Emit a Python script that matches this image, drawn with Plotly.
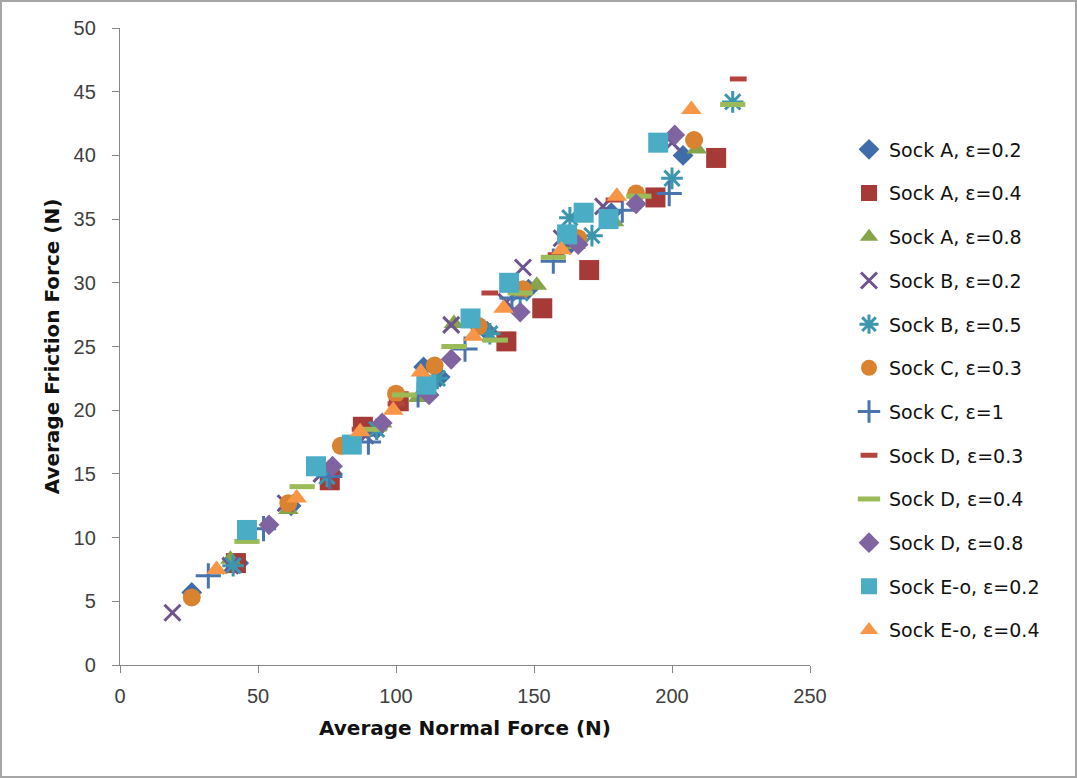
import plotly.graph_objects as go

# ---- data ----
a02_x = [26, 43, 62, 77, 93, 110, 116, 133, 148, 163, 178, 204]
a02_y = [5.7, 8.0, 12.5, 15.0, 18.5, 23.4, 22.6, 26.2, 29.5, 33.0, 35.5, 40.0]
a04_x = [42, 76, 88, 101, 140, 153, 170, 194, 216]
a04_y = [8.0, 14.5, 18.7, 20.7, 25.4, 28.0, 31.0, 36.7, 39.8]
a08_x = [40, 61, 95, 108, 121, 151, 165, 179, 209]
a08_y = [8.3, 12.2, 19.0, 21.0, 26.8, 29.8, 33.0, 34.8, 40.5]
b02_x = [19, 40, 60, 73, 89, 120, 140, 146, 160, 175, 200]
b02_y = [4.1, 7.8, 12.7, 15.0, 18.0, 26.7, 28.5, 31.2, 33.5, 36.0, 41.0]
b05_x = [41, 75, 93, 115, 134, 145, 163, 171, 200, 222]
b05_y = [7.8, 14.8, 18.5, 22.5, 26.0, 29.2, 35.1, 33.7, 38.2, 44.2]
c03_x = [26, 61, 80, 100, 114, 130, 146, 166, 187, 208]
c03_y = [5.3, 12.7, 17.2, 21.3, 23.5, 26.6, 29.5, 33.5, 37.0, 41.2]
c1_x = [32, 52, 76, 90, 108, 125, 142, 157, 182, 199]
c1_y = [7.0, 10.7, 14.8, 17.5, 21.2, 24.8, 28.8, 31.7, 35.7, 37.0]
d03_x = [87, 100, 134, 158, 179, 224]
d03_y = [18.5, 20.5, 29.2, 32.2, 36.5, 46.0]
d04_x = [46, 66, 92, 103, 121, 136, 145, 157, 188, 222]
d04_y = [9.7, 14.0, 18.5, 21.2, 25.0, 25.5, 29.2, 32.0, 36.8, 44.0]
d08_x = [54, 77, 95, 112, 120, 145, 166, 187, 201]
d08_y = [11.0, 15.6, 19.0, 21.2, 24.0, 27.7, 33.0, 36.2, 41.6]
e02_x = [46, 71, 84, 111, 127, 141, 162, 168, 177, 195]
e02_y = [10.6, 15.6, 17.3, 22.0, 27.2, 30.0, 33.8, 35.5, 35.0, 41.0]
e04_x = [35, 64, 87, 99, 109, 128, 139, 160, 180, 207]
e04_y = [7.5, 13.1, 18.3, 20.0, 23.0, 25.8, 28.0, 32.6, 36.8, 43.6]

x_ticks = [0, 50, 100, 150, 200, 250]
y_ticks = [0, 5, 10, 15, 20, 25, 30, 35, 40, 45, 50]

series = [
    ("Sock A, ε=0.2", a02_x, a02_y, "diamond", "#3F6DA9", 16, 1),
    ("Sock A, ε=0.4", a04_x, a04_y, "square", "#A63A37", 20, 1),
    ("Sock A, ε=0.8", a08_x, a08_y, "triangle-up", "#86A44A", 18, 1),
    ("Sock B, ε=0.2", b02_x, b02_y, "x-thin-open", "#6E548D", 16, 3),
    ("Sock B, ε=0.5", b05_x, b05_y, "asterisk-open", "#3C96AE", 18, 3),
    ("Sock C, ε=0.3", c03_x, c03_y, "circle", "#D9822F", 18, 1),
    ("Sock C, ε=1", c1_x, c1_y, "cross-thin-open", "#4A74AE", 18, 3),
    ("Sock D, ε=0.3", d03_x, d03_y, "line-ew-open", "#B5443F", 12, 5),
    ("Sock D, ε=0.4", d04_x, d04_y, "line-ew-open", "#9BBB59", 18, 5),
    ("Sock D, ε=0.8", d08_x, d08_y, "diamond", "#8064A2", 16, 1),
    ("Sock E-o, ε=0.2", e02_x, e02_y, "square", "#4BACC6", 20, 1),
    ("Sock E-o, ε=0.4", e04_x, e04_y, "triangle-up", "#F79646", 18, 1),
]

fig = go.Figure()
for i, (name, xs, ys, sym, col, size, lw) in enumerate(series):
    open_sym = sym.endswith("-open")
    fig.add_trace(go.Scatter(
        x=xs, y=ys, mode="markers", name=name, legendgroup=f"g{i}",
        marker=dict(symbol=sym, size=size, color=col,
                    line=dict(width=lw if open_sym else 0, color=col)),
    ))

axis_font = dict(family="Liberation Sans, Arial, sans-serif", size=20, color="#404040")
title_font = dict(family="DejaVu Sans, Liberation Sans, sans-serif", size=20, color="#111111")

PW, PH = 690, 637
fig.update_layout(
    width=1077, height=778,
    margin=dict(l=120, r=267, t=28, b=113),
    paper_bgcolor="white", plot_bgcolor="white",
    showlegend=True,
    legend=dict(x=(849 - 120) / PW, y=(665 - 390) / PH, xanchor="left", yanchor="middle",
                font=dict(family="DejaVu Sans, sans-serif", size=19, color="#111111"),
                tracegroupgap=16, itemsizing="trace", bgcolor="rgba(0,0,0,0)"),
    shapes=[dict(type="rect", xref="paper", yref="paper",
                 x0=(1 - 120) / PW, x1=(1076 - 120) / PW,
                 y0=-(777 - 665) / PH, y1=1 + (28 - 1) / PH,
                 line=dict(color="#A6A6A6", width=2), layer="below")],
)
fig.update_xaxes(range=[0, 250], tickvals=x_ticks, showgrid=False, zeroline=False,
                 showline=True, linecolor="#888888", linewidth=1.3,
                 ticks="outside", ticklen=7, tickcolor="#888888",
                 tickfont=axis_font, ticklabelstandoff=6,
                 title=dict(text="<b>Average Normal Force (N)</b>", font=title_font, standoff=14))
fig.update_yaxes(range=[0, 50], tickvals=y_ticks, showgrid=False, zeroline=False,
                 showline=True, linecolor="#888888", linewidth=1.3,
                 ticks="outside", ticklen=7, tickcolor="#888888",
                 tickfont=axis_font, ticklabelstandoff=12,
                 title=dict(text="<b>Average Friction Force (N)</b>", font=title_font, standoff=8))

fig.write_html("out.html")
